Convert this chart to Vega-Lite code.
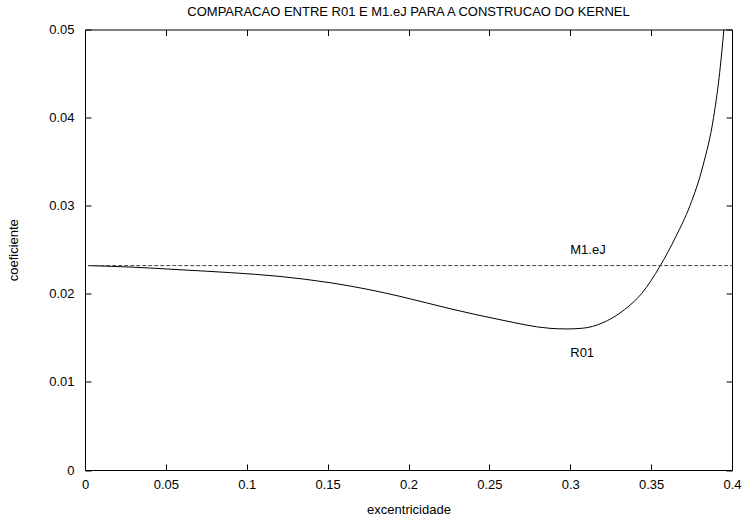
{
  "$schema": "https://vega.github.io/schema/vega-lite/v6.json",
  "autosize": {"type": "none"},
  "width": 647,
  "height": 440.5,
  "padding": {"left": 85, "top": 29.5, "right": 13, "bottom": 53},
  "background": "white",
  "title": {"text": "COMPARACAO ENTRE R01 E M1.eJ PARA A CONSTRUCAO DO KERNEL", "font": "Liberation Sans", "fontSize": 13, "fontWeight": "normal", "color": "black", "offset": 5},
  "config": {
    "view": {"stroke": "black", "strokeWidth": 1},
    "axis": {"domain": false, "labelFont": "Liberation Sans", "labelFontSize": 13, "labelColor": "black", "titleFont": "Liberation Sans", "titleFontSize": 13, "titleFontWeight": "normal", "titleColor": "black"}
  },
  "datasets": {
    "r01": [
      {"x": 0.002, "y": 0.0232},
      {"x": 0.03, "y": 0.02302},
      {"x": 0.0587, "y": 0.02273},
      {"x": 0.09, "y": 0.0224},
      {"x": 0.1206, "y": 0.02197},
      {"x": 0.1515, "y": 0.02126},
      {"x": 0.175, "y": 0.0205},
      {"x": 0.1947, "y": 0.01971},
      {"x": 0.2257, "y": 0.01831},
      {"x": 0.2566, "y": 0.01706},
      {"x": 0.2875, "y": 0.01608},
      {"x": 0.298, "y": 0.01601},
      {"x": 0.308, "y": 0.0161},
      {"x": 0.3196, "y": 0.01667},
      {"x": 0.3335, "y": 0.0182},
      {"x": 0.344, "y": 0.02},
      {"x": 0.3557, "y": 0.0232},
      {"x": 0.3653, "y": 0.0265},
      {"x": 0.374, "y": 0.03},
      {"x": 0.382, "y": 0.0345},
      {"x": 0.3886, "y": 0.04},
      {"x": 0.392, "y": 0.0445},
      {"x": 0.395, "y": 0.05},
      {"x": 0.3955, "y": 0.051}
    ],
    "m1": [
      {"x": 0.002, "y": 0.0232},
      {"x": 0.4, "y": 0.0232}
    ],
    "labels": [
      {"x": 0.3, "y": 0.025, "label": "M1.eJ"},
      {"x": 0.3, "y": 0.0133, "label": "R01"}
    ]
  },
  "layer": [
    {
      "data": {"name": "r01"},
      "mark": {"type": "line", "color": "black", "strokeWidth": 1, "clip": true, "interpolate": "monotone"},
      "encoding": {
        "x": {"field": "x", "type": "quantitative", "scale": {"domain": [0, 0.4], "nice": false, "zero": false},
              "axis": {"orient": "bottom", "ticks": false, "grid": true, "gridColor": "black", "gridOpacity": 1, "gridWidth": 1, "gridDash": [6, 428.5, 6, 100], "title": "excentricidade", "values": [0, 0.05, 0.1, 0.15, 0.2, 0.25, 0.3, 0.35, 0.4], "labelExpr": "datum.value == 0 ? '0' : format(datum.value, '.2~f')", "labelPadding": 8, "titlePadding": 12, "labelFlush": false, "labelOverlap": false}},
        "y": {"field": "y", "type": "quantitative", "scale": {"domain": [0, 0.05], "nice": false, "zero": false},
              "axis": {"orient": "left", "ticks": false, "grid": true, "gridColor": "black", "gridOpacity": 1, "gridWidth": 1, "gridDash": [6, 635, 6, 100], "title": "coeficiente", "values": [0, 0.01, 0.02, 0.03, 0.04, 0.05], "labelExpr": "datum.value == 0 ? '0' : format(datum.value, '.2~f')", "labelPadding": 11, "titlePadding": 28, "labelFlush": false, "labelOverlap": false}}
      }
    },
    {
      "data": {"name": "m1"},
      "mark": {"type": "line", "color": "#444444", "strokeWidth": 1, "strokeDash": [4, 2]},
      "encoding": {
        "x": {"field": "x", "type": "quantitative"},
        "y": {"field": "y", "type": "quantitative"}
      }
    },
    {
      "data": {"name": "labels"},
      "mark": {"type": "text", "align": "left", "baseline": "middle", "font": "Liberation Sans", "fontSize": 13, "color": "black"},
      "encoding": {
        "x": {"field": "x", "type": "quantitative"},
        "y": {"field": "y", "type": "quantitative"},
        "text": {"field": "label", "type": "nominal"}
      }
    }
  ]
}
